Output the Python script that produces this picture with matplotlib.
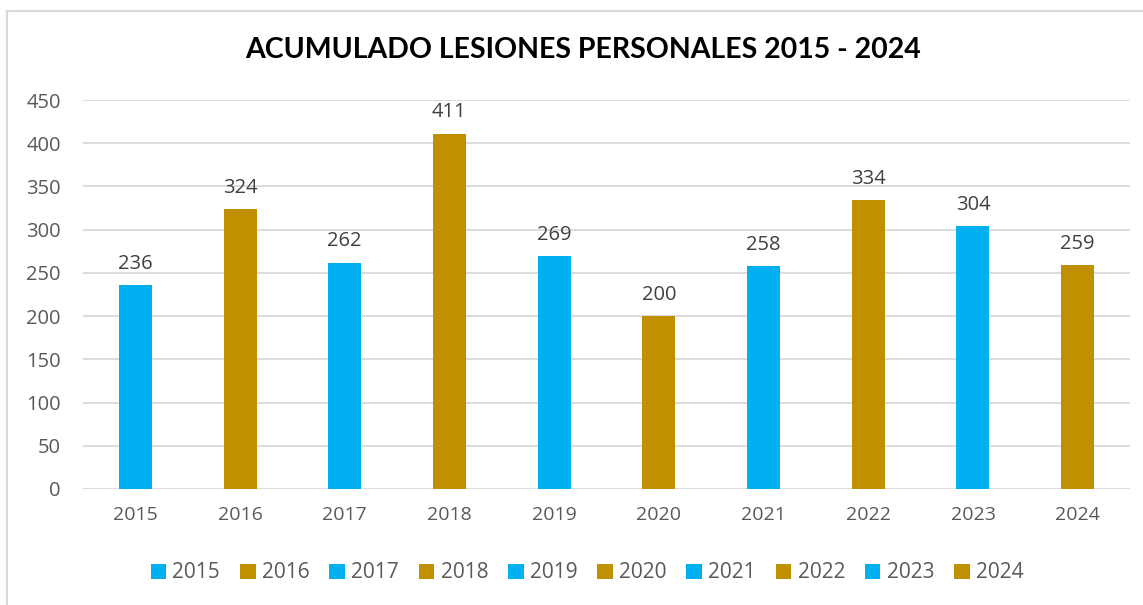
import matplotlib.pyplot as plt
from matplotlib.patches import Patch, Rectangle

years = ['2015', '2016', '2017', '2018', '2019', '2020', '2021', '2022', '2023', '2024']
values = [236, 324, 262, 411, 269, 200, 258, 334, 304, 259]

blue = '#00B0F0'
gold = '#BF9000'
colors = [blue if i % 2 == 0 else gold for i in range(len(years))]

plt.rcParams['font.family'] = ['Open Sans', 'DejaVu Sans']

W, H = 1143, 605
fig = plt.figure(figsize=(W / 100, H / 100), dpi=100)
ax = fig.add_axes([83 / W, 1 - 489 / H, (1130 - 83) / W, (489 - 100) / H])

x = range(len(years))
bars = ax.bar(x, values, width=0.315, color=colors, zorder=3)
for xi, v in zip(x, values):
    ax.text(xi, v + 13, str(v), ha='center', va='bottom', fontsize=14.5, color='#404040')

ax.set_xlim(-0.5, len(years) - 0.5)
ax.set_ylim(0, 450)
ax.set_yticks(range(0, 451, 50))
ax.set_xticks(list(x))
ax.set_xticklabels(years)
ax.grid(axis='y', color='#D9D9D9', linewidth=1.3, zorder=0)
for s in ax.spines.values():
    s.set_visible(False)
ax.tick_params(axis='both', length=0, labelsize=14, colors='#595959')
ax.tick_params(axis='x', pad=12)
ax.tick_params(axis='y', pad=16, labelsize=14.5)

fig.text(583 / W, 1 - 50 / H, 'ACUMULADO LESIONES PERSONALES 2015 - 2024',
         ha='center', va='center', fontsize=20.5, fontweight='bold', color='black',
         family=['Lato', 'DejaVu Sans'])

handles = [Patch(facecolor=c, edgecolor='none') for c in colors]
fig.legend(handles, years, loc='center', bbox_to_anchor=(587 / W, 1 - 573 / H), ncol=10,
           frameon=False, fontsize=15, labelcolor='#595959', handlelength=0.75,
           handleheight=0.75, handletextpad=0.3, columnspacing=0.95)

fig.patches.append(Rectangle((7 / W, -0.1), 1.2, 1 - 11 / H + 0.1, transform=fig.transFigure,
                             fill=False, edgecolor='#D9D9D9', linewidth=1.5))

fig.savefig('out.png', dpi=100)
